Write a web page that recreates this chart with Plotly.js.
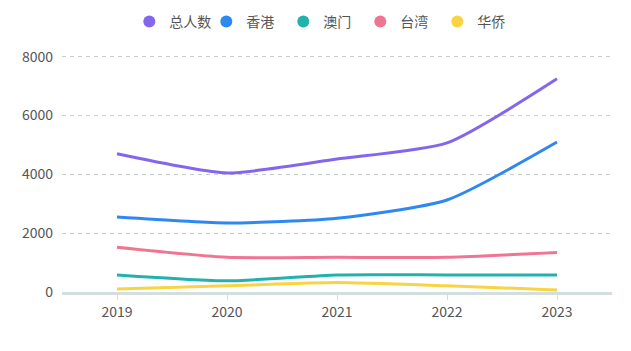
<!DOCTYPE html>
<html>
<head>
<meta charset="utf-8">
<script src="https://cdn.plot.ly/plotly-3.0.1.min.js"></script>
<style>html,body{margin:0;padding:0;background:#fff}#chart{width:631px;height:351px}</style>
</head>
<body>
<div id="chart"></div>
<script>
const years = ['2019', '2020', '2021', '2022', '2023'];
const seriesNames = ['总人数', '香港', '澳门', '台湾', '华侨'];
const total = [4700, 4050, 4520, 5070, 7250];
const hongKong = [2550, 2350, 2510, 3130, 5100];
const macau = [580, 380, 580, 580, 580];
const taiwan = [1525, 1180, 1180, 1180, 1345];
const overseas = [100, 210, 320, 210, 70];
const colors = ['#8466ee', '#2e88f2', '#22b2ad', '#ef7592', '#f8d444'];

const values = [total, hongKong, macau, taiwan, overseas];
const font = "'Noto Sans CJK SC', 'Noto Sans', sans-serif";

const traces = [];
values.forEach((v, i) => {
  traces.push({
    x: years, y: v, type: 'scatter', mode: 'lines',
    line: {color: colors[i], width: 3, shape: 'spline', smoothing: 0.6},
    showlegend: false, hoverinfo: 'skip'
  });
});
seriesNames.forEach((n, i) => {
  traces.push({
    x: [null], y: [null], type: 'scatter', mode: 'markers', name: n,
    marker: {color: colors[i], size: 11, symbol: 'circle'},
    showlegend: true
  });
});

const layout = {
  width: 631, height: 351,
  margin: {l: 62, r: 19, t: 55, b: 59},
  paper_bgcolor: '#fff', plot_bgcolor: '#fff',
  font: {family: font, size: 14, color: '#666'},
  showlegend: true,
  legend: {
    orientation: 'h', x: 0.51, xref: 'container', xanchor: 'center',
    y: 1 - 22 / 351, yref: 'container', yanchor: 'middle',
    font: {family: font, size: 14, color: '#555'},
    itemsizing: 'constant', itemwidth: 30, tracegroupgap: 0,
    entrywidth: 32, entrywidthmode: 'pixels'
  },
  xaxis: {
    type: 'category', range: [-0.5, 4.5],
    showgrid: false, zeroline: false,
    showline: true, linecolor: '#d5dede', linewidth: 3,
    ticks: 'outside', ticklen: 5, tickcolor: '#d5dede', tickwidth: 1,
    tickfont: {family: font, size: 14, color: '#555'},
    fixedrange: true
  },
  yaxis: {
    range: [0, 8060], tickvals: [0, 2000, 4000, 6000, 8000],
    showgrid: true, gridcolor: '#c5cdcd', griddash: '4px,4px', gridwidth: 1,
    zeroline: false, showline: false, ticks: '',
    ticklabelstandoff: 8,
    tickfont: {family: font, size: 14, color: '#555'},
    fixedrange: true
  }
};

Plotly.newPlot('chart', traces, layout, {displayModeBar: false, staticPlot: true});
</script>
</body>
</html>
